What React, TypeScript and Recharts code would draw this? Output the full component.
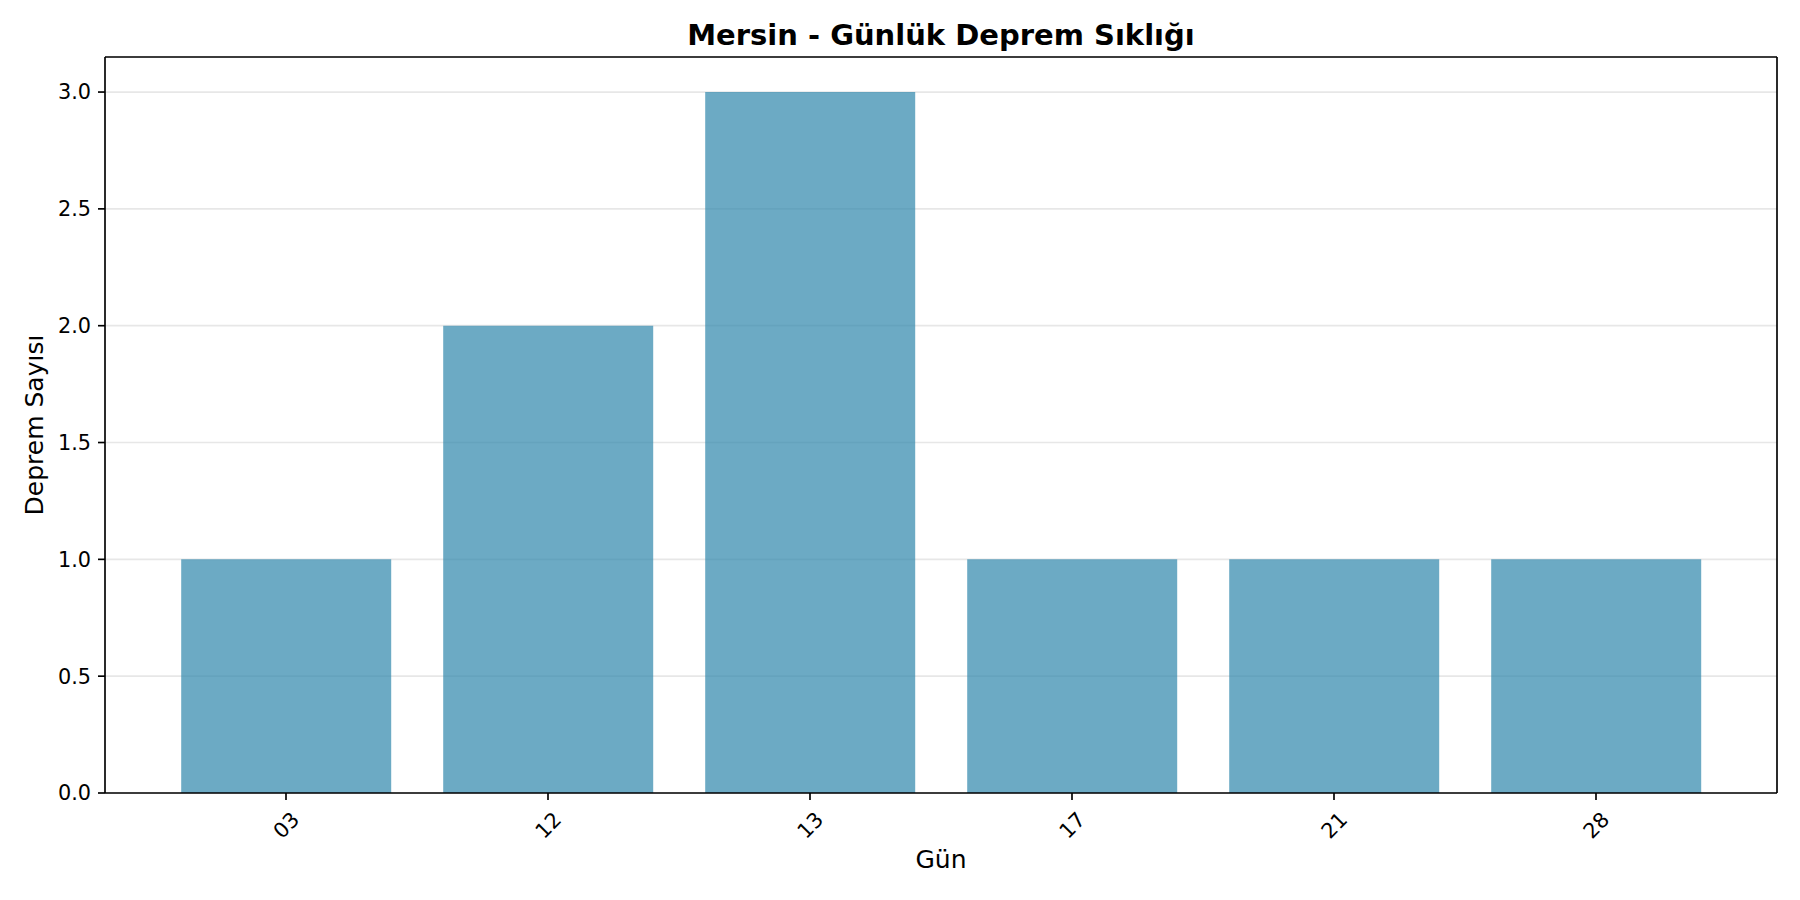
import { BarChart, Bar, XAxis, YAxis, CartesianGrid, Label } from 'recharts';

const days = ['03', '12', '13', '17', '21', '28'];
const quakeCounts = [1, 2, 3, 1, 1, 1];
const yTicks = [0, 0.5, 1, 1.5, 2, 2.5, 3];

const chartTitle = 'Mersin - Günlük Deprem Sıklığı';
const xTitle = 'Gün';
const yTitle = 'Deprem Sayısı';

const data = days.map((day, i) => ({ day, count: quakeCounts[i] }));

const FONT = '"DejaVu Sans", sans-serif';
const LINE = { stroke: '#000', strokeWidth: 1.67 };

function RotatedTick({ x, y, payload }: { x?: number; y?: number; payload?: { value: string } }) {
  const cy = (y ?? 0) + 18;
  return (
    <text
      x={x}
      y={cy}
      textAnchor="middle"
      dy="0.36em"
      fontFamily={FONT}
      fontSize={20.8}
      fill="#000"
      transform={`rotate(-45 ${x} ${cy})`}
    >
      {payload?.value}
    </text>
  );
}

export default function App() {
  return (
    <div style={{ position: 'absolute', left: 0, top: 0, width: 1800, height: 900, background: '#fff' }}>
      <BarChart
        width={1800}
        height={900}
        data={data}
        margin={{ top: 56, right: 22, left: 0, bottom: 0 }}
        barCategoryGap="10%"
      >
        <CartesianGrid vertical={false} stroke="#b0b0b0" strokeOpacity={0.3} strokeWidth={1.67} />
        <XAxis
          dataKey="day"
          height={107}
          interval={0}
          padding={{ left: 50, right: 50 }}
          tickSize={7}
          tickMargin={7}
          tick={<RotatedTick />}
          axisLine={LINE}
          tickLine={LINE}
        >
          <Label
            content={({ viewBox }: any) => (
              <text
                x={viewBox.x + viewBox.width / 2}
                y={868}
                textAnchor="middle"
                fontFamily={FONT}
                fontSize={25}
                fill="#000"
              >
                {xTitle}
              </text>
            )}
          />
        </XAxis>
        <XAxis
          xAxisId="top"
          orientation="top"
          dataKey="day"
          height={1}
          tick={false}
          tickLine={false}
          axisLine={LINE}
        >
          <Label
            content={({ viewBox }: any) => (
              <text
                x={viewBox.x + viewBox.width / 2}
                y={45}
                textAnchor="middle"
                fontFamily={FONT}
                fontSize={29}
                fontWeight="bold"
                fill="#000"
              >
                {chartTitle}
              </text>
            )}
          />
        </XAxis>
        <YAxis
          width={105}
          domain={[0, 3.15]}
          ticks={yTicks}
          tickFormatter={(v: number) => v.toFixed(1)}
          tickSize={7}
          tickMargin={7}
          tick={{ fontFamily: FONT, fontSize: 20.8, fill: '#000' }}
          axisLine={LINE}
          tickLine={LINE}
        >
          <Label
            content={({ viewBox }: any) => {
              const cy = viewBox.y + viewBox.height / 2;
              return (
                <text
                  x={43}
                  y={cy}
                  textAnchor="middle"
                  fontFamily={FONT}
                  fontSize={25}
                  fill="#000"
                  transform={`rotate(-90 43 ${cy})`}
                >
                  {yTitle}
                </text>
              );
            }}
          />
        </YAxis>
        <YAxis
          yAxisId="right"
          orientation="right"
          width={1}
          domain={[0, 3.15]}
          tick={false}
          tickLine={false}
          axisLine={LINE}
        />
        <Bar dataKey="count" fill="#2E86AB" fillOpacity={0.7} isAnimationActive={false} />
      </BarChart>
    </div>
  );
}
